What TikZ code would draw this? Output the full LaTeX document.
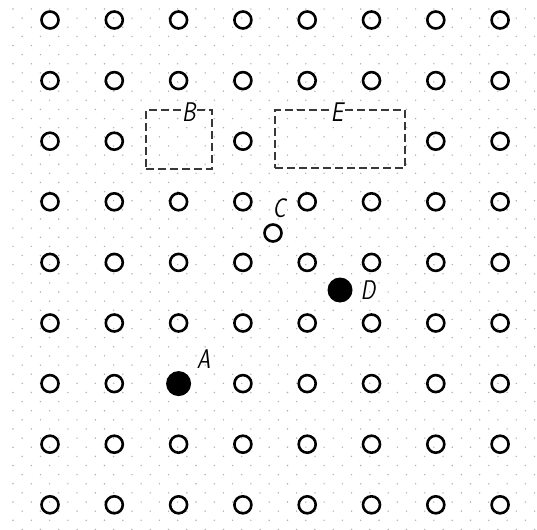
\documentclass[tikz,border=0pt]{standalone}
\usepackage{fontspec}
\usepackage{xcolor}
\definecolor{dotGray}{HTML}{B0B0B0}
\definecolor{boxLine}{HTML}{383838}
\usetikzlibrary{positioning}
\tikzset{
    hole/.style={circle, draw, line width=2.6pt, minimum size=17pt, inner sep=0pt},
    ion/.style={circle, fill, minimum size=25pt, inner sep=0pt},
    cellbox/.style={draw=boxLine, line width=2pt, dash pattern=on 8pt off 4pt,
                    inner sep=0pt},
    tag/.style={font=\fontsize{27}{30}\selectfont\sffamily\itshape, inner sep=0pt,
                xscale=0.8, transform shape},
    boxtag/.style={tag, fill=white, inner sep=1pt},
}

\begin{document}
\begin{tikzpicture}[x=1pt, y=-1pt]
    \useasboundingbox (0,0) rectangle (537,529);
    % dotted paper
    \foreach \k in {0,...,57}
        \foreach \m in {0,...,29}
            \fill[dotGray] ({13+18.3*\m+9.15*mod(\k,2)}, {9+9.13*\k}) circle (0.8);
    % lattice of empty sites
    \foreach \r in {0,...,8}
        \foreach \c in {0,...,7} {
            \pgfmathtruncatemacro\gone{(\r==2)*((\c==2)+(\c==4)+(\c==5)) + (\r==6)*(\c==2)}
            \ifnum\gone=0
                \node[hole] (h\c\r) at ({50+64.3*\c}, {20+60.6*\r}) {};
            \fi
        }
    % defects
    \node[ion] (A) at (178.6, 383.6) {};
    \node[ion] (D) at (340, 290) {};
    \node[hole] (C) at (273, 233) {};
    \node[tag] (lA) at ([shift={(25,-24)}]A) {A};
    \node[tag] (lD) at ([shift={(28,0)}]D) {D};
    \node[tag] (lC) at ([shift={(6,-25)}]C) {C};
    % vacancy boxes
    \node[cellbox, minimum width=66pt, minimum height=59pt] (B) at (179, 139.5) {};
    \node[cellbox, minimum width=130pt, minimum height=58pt] (E) at (340, 139) {};
    \node[boxtag] (lB) at ([shift={(10,3)}]B.north) {B};
    \node[boxtag] (lE) at ([shift={(-3,3)}]E.north) {E};
\end{tikzpicture}
\end{document}
